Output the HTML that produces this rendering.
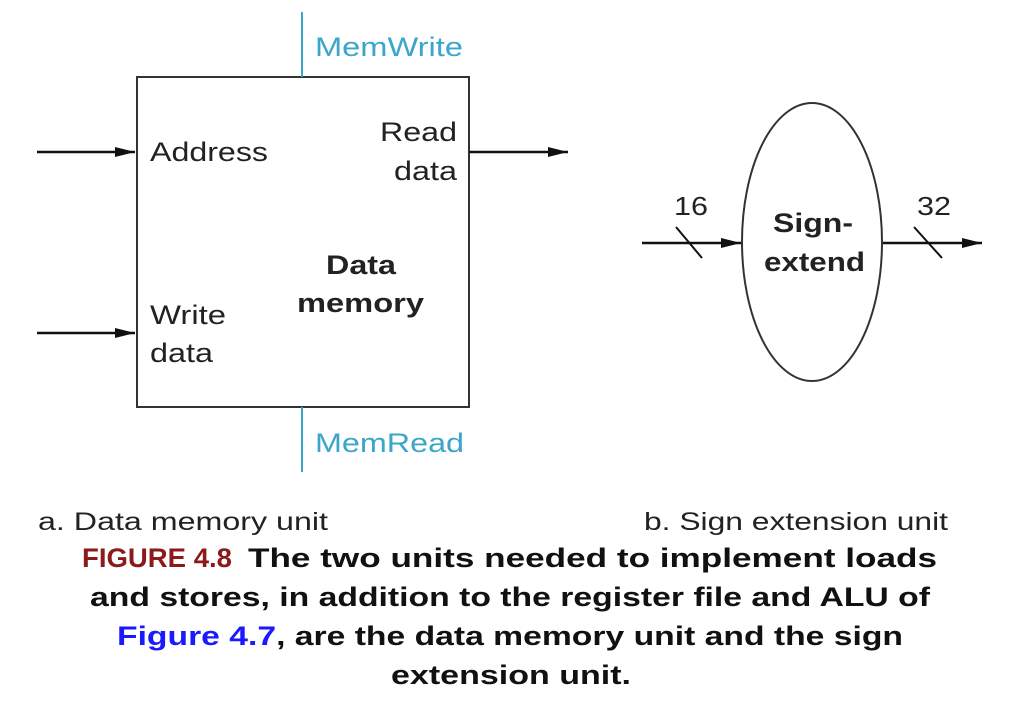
<!DOCTYPE html>
<html><head><meta charset="utf-8"><style>
body{margin:0;background:#fff;width:1014px;height:696px;overflow:hidden}
svg text{font-family:"Liberation Sans",Arial,sans-serif}
</style></head><body>
<svg width="1014" height="696" viewBox="0 0 1014 696" xmlns="http://www.w3.org/2000/svg">
<defs><marker id="b" markerWidth="20" markerHeight="10" refX="20" refY="5" orient="auto" markerUnits="userSpaceOnUse"><path d="M0,0 L20,5 L0,10 Z" fill="#111"/></marker></defs>
<rect x="137" y="77" width="332" height="330" fill="none" stroke="#333" stroke-width="2"/>
<line x1="302" y1="12" x2="302" y2="77" stroke="#3aa6c9" stroke-width="2"/>
<line x1="302" y1="407" x2="302" y2="472" stroke="#3aa6c9" stroke-width="2"/>
<line x1="37" y1="152" x2="135" y2="152" stroke="#111" stroke-width="2.5" marker-end="url(#b)"/>
<line x1="37" y1="333" x2="135" y2="333" stroke="#111" stroke-width="2.5" marker-end="url(#b)"/>
<line x1="469" y1="152" x2="568" y2="152" stroke="#111" stroke-width="2.5" marker-end="url(#b)"/>
<g font-size="27" fill="#3aa6c9"><text x="315" y="56" textLength="148" lengthAdjust="spacingAndGlyphs">MemWrite</text><text x="315" y="452" textLength="149" lengthAdjust="spacingAndGlyphs">MemRead</text></g>
<g font-size="27" fill="#222">
<text x="150" y="161" textLength="118" lengthAdjust="spacingAndGlyphs">Address</text>
<text x="380" y="141" textLength="77" lengthAdjust="spacingAndGlyphs">Read</text><text x="394" y="180" textLength="63" lengthAdjust="spacingAndGlyphs">data</text>
<text x="150" y="324" textLength="76" lengthAdjust="spacingAndGlyphs">Write</text><text x="150" y="362" textLength="63" lengthAdjust="spacingAndGlyphs">data</text>
</g>
<g font-size="27" font-weight="bold" fill="#222"><text x="326" y="274" textLength="70" lengthAdjust="spacingAndGlyphs">Data</text><text x="297" y="312" textLength="127" lengthAdjust="spacingAndGlyphs">memory</text></g>
<ellipse cx="812" cy="242" rx="70" ry="139" fill="none" stroke="#333" stroke-width="2"/>
<line x1="642" y1="243" x2="741" y2="243" stroke="#111" stroke-width="2.5" marker-end="url(#b)"/>
<line x1="676" y1="227" x2="702" y2="258" stroke="#111" stroke-width="2"/>
<line x1="883" y1="243" x2="982" y2="243" stroke="#111" stroke-width="2.5" marker-end="url(#b)"/>
<line x1="914" y1="227" x2="942" y2="258" stroke="#111" stroke-width="2"/>
<g font-size="26" fill="#222"><text x="674" y="215" textLength="34" lengthAdjust="spacingAndGlyphs">16</text><text x="917" y="215" textLength="34" lengthAdjust="spacingAndGlyphs">32</text></g>
<g font-size="27" font-weight="bold" fill="#222"><text x="773" y="232" textLength="80" lengthAdjust="spacingAndGlyphs">Sign-</text><text x="764" y="271" textLength="101" lengthAdjust="spacingAndGlyphs">extend</text></g>
<g font-size="25" fill="#222"><text x="38" y="530" textLength="290" lengthAdjust="spacingAndGlyphs">a. Data memory unit</text><text x="644" y="530" textLength="304" lengthAdjust="spacingAndGlyphs">b. Sign extension unit</text></g>
<g font-size="27" font-weight="bold" fill="#111">
<text x="82" y="567" fill="#8b1a1a" textLength="150" lengthAdjust="spacingAndGlyphs">FIGURE 4.8</text>
<text x="248" y="567" textLength="689" lengthAdjust="spacingAndGlyphs">The two units needed to implement loads</text>
<text x="90" y="606" textLength="840" lengthAdjust="spacingAndGlyphs">and stores, in addition to the register file and ALU of</text>
<text x="117" y="645" textLength="786" lengthAdjust="spacingAndGlyphs"><tspan fill="#1a1aff">Figure 4.7</tspan>, are the data memory unit and the sign</text>
<text x="391" y="684" textLength="240" lengthAdjust="spacingAndGlyphs">extension unit.</text>
</g>
</svg>
</body></html>
